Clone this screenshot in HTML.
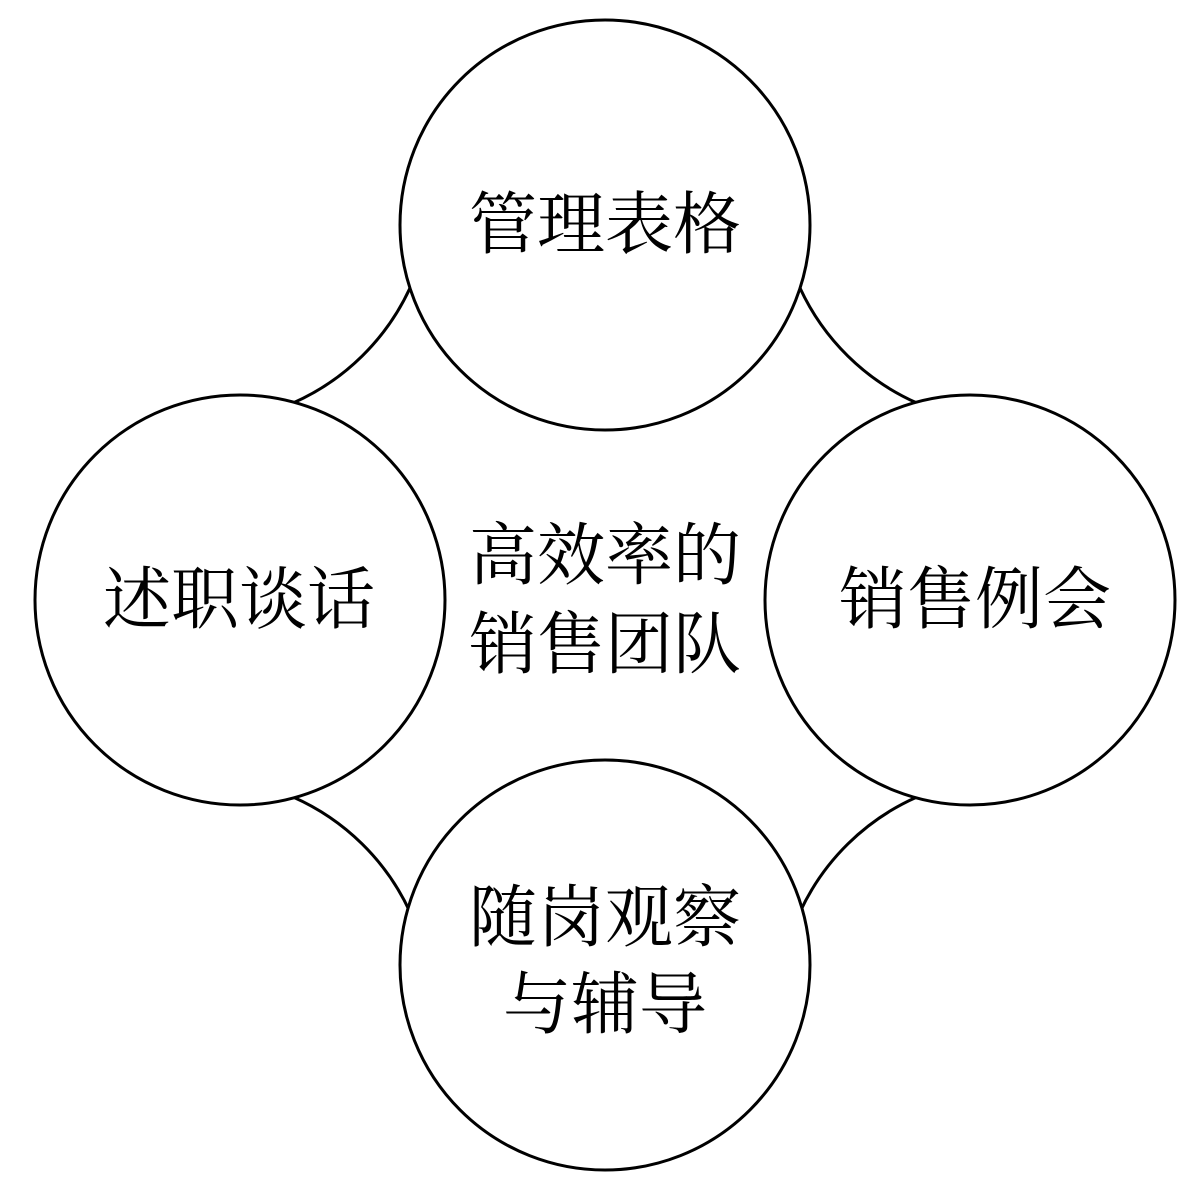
<!DOCTYPE html>
<html><head><meta charset="utf-8"><style>
html,body{margin:0;padding:0;background:#fff;}
svg{display:block;}
text{font-family:"Liberation Serif","Noto Serif CJK SC",serif;font-size:68px;fill:#000;text-anchor:middle;dominant-baseline:central;}
</style></head><body>
<svg width="1195" height="1187" viewBox="0 0 1195 1187">
<rect width="1195" height="1187" fill="#fff"/>
<g fill="none" stroke="#000" stroke-width="3">
<path d="M293 403 A232 232 0 0 0 410 288"/>
<path d="M917 403 A232 232 0 0 1 800 288"/>
<path d="M293 797 A232 232 0 0 1 410 912"/>
<path d="M917 797 A232 232 0 0 0 800 912"/>
</g>
<g fill="#fff" stroke="#000" stroke-width="3">
<circle cx="605" cy="225" r="205"/>
<circle cx="240" cy="600" r="205"/>
<circle cx="970" cy="600" r="205"/>
<circle cx="605" cy="965" r="205"/>
</g>
<text x="605" y="225">管理表格</text>
<text x="239" y="600">述职谈话</text>
<text x="975" y="600">销售例会</text>
<text x="605" y="556" font-size="65">高效率的</text>
<text x="605" y="645" font-size="65">销售团队</text>
<text x="605" y="918">随岗观察</text>
<text x="605" y="1005">与辅导</text>
</svg>
</body></html>
